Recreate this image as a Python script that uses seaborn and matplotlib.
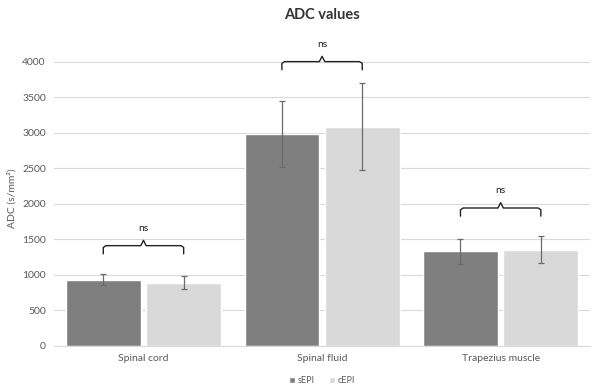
import matplotlib
matplotlib.use("Agg")
import matplotlib.pyplot as plt
import seaborn as sns
import pandas as pd
import numpy as np

categories = ["Spinal cord", "Spinal fluid", "Trapezius muscle"]
series = ["sEPI", "cEPI"]
sepi_values = [930, 2980, 1330]
cepi_values = [890, 3085, 1350]
sepi_err = [80, 460, 180]
cepi_err = [95, 610, 190]
bracket_levels = [1410, 4000, 1940]
sig_labels = ["ns", "ns", "ns"]
yticks = [0, 500, 1000, 1500, 2000, 2500, 3000, 3500, 4000]

df = pd.DataFrame({
    "category": categories * 2,
    "series": [series[0]] * 3 + [series[1]] * 3,
    "value": sepi_values + cepi_values,
})

sns.set_theme(style="white")
plt.rcParams["font.family"] = ["Lato", "DejaVu Sans"]

fig, ax = plt.subplots(figsize=(6.02, 3.86), dpi=100)
fig.subplots_adjust(left=0.09, right=0.98, top=0.868, bottom=0.104)

palette = {"sEPI": "#7f7f7f", "cEPI": "#d9d9d9"}
sns.barplot(data=df, x="category", y="value", hue="series", order=categories,
            hue_order=series, palette=palette, width=0.9, gap=0.07,
            errorbar=None, ax=ax, saturation=1, legend=True)

errs = [sepi_err, cepi_err]
vals = [sepi_values, cepi_values]
bar_containers = list(ax.containers)
centers = [[p.get_x() + p.get_width() / 2 for p in cont.patches] for cont in bar_containers]
for i in range(len(series)):
    ax.errorbar(centers[i], vals[i], yerr=errs[i], fmt="none", ecolor="#6b6b6b",
                elinewidth=0.9, capsize=2.5, capthick=0.9, zorder=3)

# brackets
drop = 115
peak = 75
for j in range(len(categories)):
    x0, x1 = centers[0][j], centers[1][j]
    y = bracket_levels[j]
    xm = (x0 + x1) / 2
    r = 0.015
    xs = [x0, x0, x0 + r, xm - r, xm, xm + r, x1 - r, x1, x1]
    ys = [y - drop, y - 25, y, y, y + peak, y, y, y - 25, y - drop]
    ax.plot(xs, ys, color="#222222", lw=1.0, zorder=4, solid_joinstyle="round")
    ax.text(xm, y + 245, sig_labels[j], ha="center", va="center", fontsize=7.5,
            color="#222222")

ax.set_ylim(0, 4150)
ax.set_yticks(yticks)
ax.set_yticklabels([str(t) for t in yticks])
ax.set_xlim(-0.5, 2.5)
ax.yaxis.grid(True, color="#d9d9d9", lw=0.8)
ax.set_axisbelow(True)
for s in ["top", "right", "left"]:
    ax.spines[s].set_visible(False)
ax.spines["bottom"].set_color("#d9d9d9")
ax.spines["bottom"].set_linewidth(0.8)
ax.tick_params(axis="both", length=0, labelsize=7.5, colors="#595959", pad=6)
ax.set_xlabel("")
ax.set_ylabel("ADC (s/mm²)", fontsize=7.5, color="#595959")
ax.set_title("ADC values", fontsize=10.5, fontweight="bold", color="#333333", pad=23)

handles, labels = ax.get_legend_handles_labels()
ax.legend(handles, labels, loc="upper center", bbox_to_anchor=(0.5, -0.075),
          ncol=2, frameon=False, fontsize=6.5, handlelength=0.7, handleheight=0.7,
          handletextpad=0.3, columnspacing=1.5, labelcolor="#595959")

fig.savefig("out.png", dpi=100)
